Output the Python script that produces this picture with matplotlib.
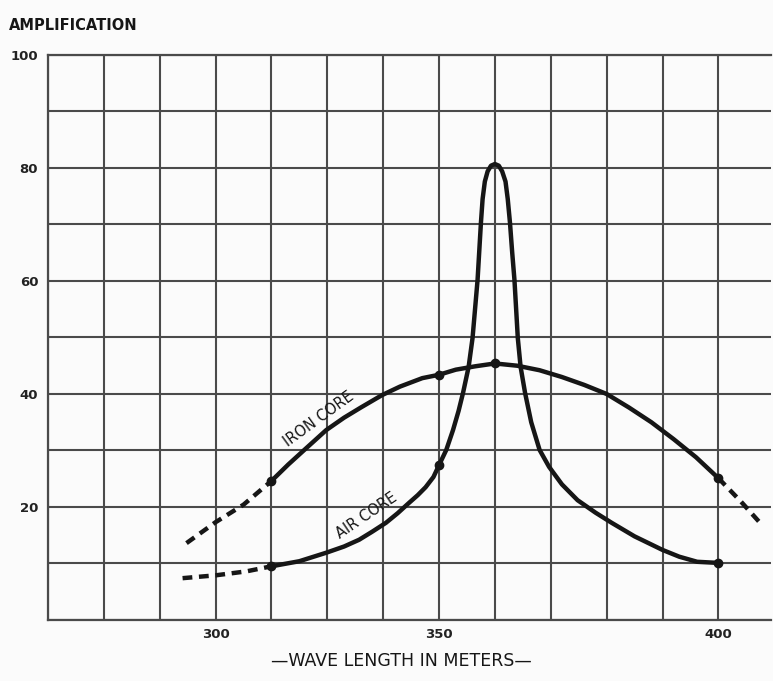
import numpy as np
import matplotlib.pyplot as plt
import matplotlib.ticker as ticker

# Iron core curve, solid part (wave length in meters, amplification)
iron_wl = [320, 323, 326, 329.8, 333, 336, 339.8, 343, 347, 350, 353, 356.5, 360,
           364, 368, 372, 376, 380, 384, 388, 392, 396, 400]
iron_amp = [24.6, 27.5, 30.2, 33.6, 35.8, 37.6, 39.8, 41.3, 42.8, 43.4, 44.3, 44.9, 45.4,
            45.0, 44.2, 43.0, 41.6, 40.0, 37.6, 35.0, 32.0, 28.8, 25.1]
# dashed extrapolations at both ends
iron_lo_wl = [304.8, 310.0, 315.0, 320]
iron_lo_amp = [13.6, 17.3, 20.4, 24.6]
iron_hi_wl = [400, 404, 408]
iron_hi_amp = [25.1, 21.0, 16.6]
iron_pts_wl = [320, 350, 360, 400]
iron_pts_amp = [24.6, 43.4, 45.4, 25.1]

# Air core curve
air_wl = [320, 325, 329.8, 333, 335.7, 338, 340.5, 342.6, 344.6, 346.2, 347.6, 349, 350,
          351.3, 352.5, 353.5, 354.3, 355.3, 356.0, 356.9, 357.5, 357.8, 358.2, 358.7, 359.3, 360,
          360.7, 361.3, 361.9, 362.3, 362.7, 363.1, 363.5, 364.1, 364.6, 365.4, 366.5, 368.0,
          369.7, 372, 374.8, 378, 380.9, 385, 390, 393, 396.2, 400]
air_amp = [9.5, 10.4, 11.9, 13.0, 14.2, 15.6, 17.2, 18.9, 20.7, 22.1, 23.5, 25.3, 27.4,
           30.1, 33.6, 37.0, 40.2, 44.8, 49.9, 60.2, 70.3, 74.5, 77.6, 79.4, 80.4, 80.7,
           80.4, 79.4, 77.6, 74.5, 70.3, 65.0, 60.2, 49.9, 44.8, 40.2, 35.0, 30.1,
           27.1, 24.0, 21.2, 19.0, 17.2, 14.8, 12.4, 11.2, 10.3, 10.1]
air_lo_wl = [304.1, 310.0, 315.5, 320]
air_lo_amp = [7.4, 7.9, 8.6, 9.5]
air_pts_wl = [320, 350, 400]
air_pts_amp = [9.5, 27.4, 10.1]

x_tick_pos = [310, 350, 400]
x_tick_labels = ['300', '350', '400']
y_ticks = [20, 40, 60, 80, 100]

ink = '#161616'
grid_col = '#4a4a4a'
paper = '#fbfbfb'

fig = plt.figure(figsize=(7.73, 6.81), dpi=100, facecolor=paper)
ax = fig.add_axes([0.062, 0.0896, 0.936, 0.8297], facecolor=paper)

ax.set_xlim(280, 409.5)
ax.set_ylim(0, 100)

ax.xaxis.set_minor_locator(ticker.MultipleLocator(10))
ax.yaxis.set_minor_locator(ticker.MultipleLocator(10))
ax.set_xticks(x_tick_pos)
ax.set_xticklabels(x_tick_labels)
ax.set_yticks(y_ticks)
ax.set_yticklabels([str(v) for v in y_ticks])
ax.grid(which='both', color=grid_col, lw=1.5)
ax.set_axisbelow(True)
ax.tick_params(which='both', length=0)
ax.tick_params(axis='x', pad=6, labelsize=9.5, colors='#222222')
ax.tick_params(axis='y', pad=7, labelsize=9.5, colors='#222222')
for lab in ax.get_xticklabels() + ax.get_yticklabels():
    lab.set_fontweight('bold')
for side in ['left', 'bottom', 'top']:
    ax.spines[side].set_color(grid_col)
    ax.spines[side].set_linewidth(1.6)
ax.spines['right'].set_visible(False)

lw = 3.2
dash = (0, (2.2, 1.5))
ax.plot(iron_wl, iron_amp, color=ink, lw=lw, solid_capstyle='round', solid_joinstyle='round')
ax.plot(iron_lo_wl, iron_lo_amp, color=ink, lw=lw, ls=dash)
ax.plot(iron_hi_wl, iron_hi_amp, color=ink, lw=lw, ls=dash)
ax.plot(iron_pts_wl, iron_pts_amp, 'o', color=ink, ms=6)

ax.plot(air_wl, air_amp, color=ink, lw=lw, solid_capstyle='round', solid_joinstyle='round')
ax.plot(air_lo_wl, air_lo_amp, color=ink, lw=lw, ls=dash)
ax.plot(air_pts_wl, air_pts_amp, 'o', color=ink, ms=6)

# curve names written along the lines
ax.text(328.5, 35.5, 'IRON CORE', rotation=36, fontsize=10.5, color=ink,
        ha='center', va='center', fontweight='medium')
ax.text(337.0, 18.4, 'AIR CORE', rotation=34, fontsize=10.5, color=ink,
        ha='center', va='center', fontweight='medium')

fig.text(0.012, 0.963, 'AMPLIFICATION', fontsize=10.5, fontweight='bold', color=ink,
         ha='left', va='center')
fig.text(0.519, 0.030, '—WAVE LENGTH IN METERS—', fontsize=12.5, color=ink,
         ha='center', va='center')

fig.savefig('out.png', dpi=100, facecolor=paper)
